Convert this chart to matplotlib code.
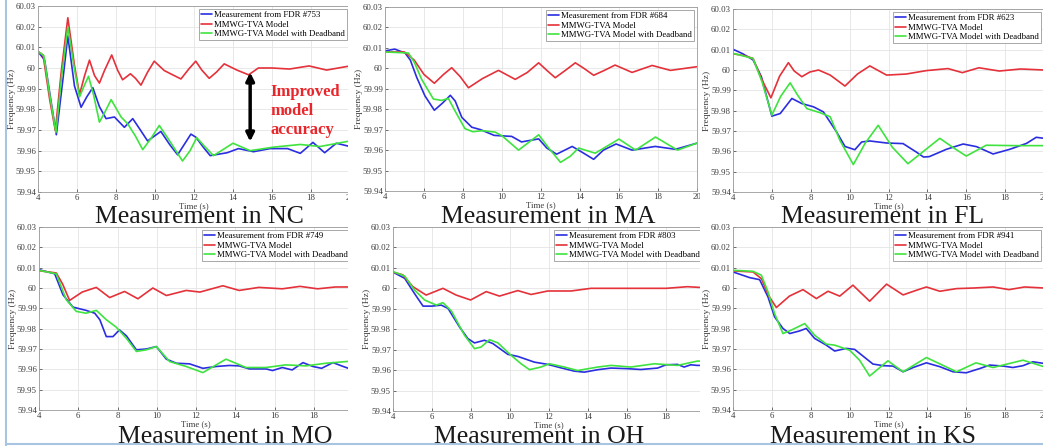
"""
Frequency response: FDR measurements vs MMWG-TVA model, six states
"""

import matplotlib
matplotlib.use("Agg")
import matplotlib.pyplot as plt
from matplotlib.ticker import FuncFormatter
from matplotlib.lines import Line2D

plt.rcParams['font.family'] = ['Liberation Serif', 'DejaVu Serif']

W, H = 1043, 446

BLUE = '#2a2ee0'
RED = '#e4313a'
GREEN = '#3fe33f'

STATES = ['NC', 'MA', 'FL', 'MO', 'OH', 'KS']
FDR_IDS = [753, 684, 623, 749, 803, 941]
X_TICKS = [4, 6, 8, 10, 12, 14, 16, 18, 20]
Y_TICKS = [59.94, 59.95, 59.96, 59.97, 59.98, 59.99, 60.0, 60.01, 60.02, 60.03]

# ---- NC ----
nc_meas_t = [4.0, 4.34, 4.65, 4.94, 5.28, 5.53, 5.87, 6.21, 6.5, 6.81, 7.15, 7.49, 7.92, 8.43,
             8.86, 9.25, 9.62, 10.3, 10.75, 11.16, 11.5, 11.84, 12.1, 12.45, 12.83, 13.7, 14.28,
             15.05, 15.9, 16.8, 17.45, 18.1, 18.7, 19.3, 20.0]
nc_meas_f = [60.008, 60.0038, 59.985, 59.9677, 59.9947, 60.0155, 59.9913, 59.981, 59.986,
             59.9905, 59.9813, 59.9755, 59.9763, 59.9713, 59.9755, 59.970, 59.9647, 59.9693,
             59.963, 59.958, 59.963, 59.968, 59.9665, 59.962, 59.9576, 59.959, 59.961, 59.9595,
             59.961, 59.961, 59.9587, 59.964, 59.959, 59.9636, 59.962]
nc_model_t = [4.0, 4.26, 4.6, 4.89, 5.19, 5.53, 5.87, 6.13, 6.39, 6.64, 6.9, 7.15, 7.41, 7.78,
              8.09, 8.34, 8.74, 9.0, 9.28, 9.62, 9.96, 10.47, 10.8, 11.33, 11.75, 12.09, 12.4,
              12.78, 13.15, 13.55, 14.2, 14.8, 15.3, 16.0, 16.9, 17.9, 18.8, 20.0]
nc_model_f = [60.008, 60.0063, 59.9847, 59.9697, 59.998, 60.0243, 60.0013, 59.9872, 59.9963,
              60.0038, 59.9963, 59.9927, 59.9988, 60.0063, 59.9988, 59.9943, 59.9972, 59.995,
              59.9917, 59.998, 60.0033, 59.9988, 59.9972, 59.9947, 59.9997, 60.0033, 59.999,
              59.995, 59.998, 60.002, 59.999, 59.9967, 60.0, 60.0, 59.9995, 60.001, 59.999,
              60.001]
nc_dead_t = [4.0, 4.3, 4.6, 4.92, 5.2, 5.53, 5.85, 6.13, 6.35, 6.59, 6.85, 7.15, 7.45, 7.75,
             8.26, 8.6, 9.0, 9.37, 9.8, 10.22, 10.8, 11.41, 11.8, 12.14, 12.55, 13.0, 14.0,
             14.88, 16.07, 17.45, 18.46, 20.0]
nc_dead_f = [60.008, 60.006, 59.987, 59.9688, 59.995, 60.0197, 60.0005, 59.986, 59.991, 59.996,
             59.987, 59.9738, 59.979, 59.9847, 59.9763, 59.973, 59.967, 59.9605, 59.966,
             59.9722, 59.964, 59.955, 59.960, 59.9663, 59.962, 59.9576, 59.9636, 59.960,
             59.9617, 59.963, 59.962, 59.9647]

# ---- MA ----
ma_meas_t = [4.0, 4.5, 5.03, 5.3, 5.63, 6.05, 6.53, 6.95, 7.35, 7.6, 7.94, 8.45, 8.9, 9.6, 10.5,
             11.0, 11.88, 12.3, 12.8, 13.6, 14.1, 14.7, 15.2, 15.85, 16.67, 17.86, 18.9, 20.0]
ma_meas_f = [60.0085, 60.0094, 60.0075, 60.004, 59.9955, 59.9865, 59.9795, 59.983, 59.9868,
             59.984, 59.976, 59.9712, 59.970, 59.9672, 59.9667, 59.964, 59.9655, 59.961, 59.958,
             59.9618, 59.959, 59.9555, 59.960, 59.963, 59.960, 59.9618, 59.9604, 59.9634]
ma_model_t = [4.0, 5.0, 5.5, 6.0, 6.53, 7.0, 7.42, 7.85, 8.28, 9.0, 9.82, 10.68, 11.3, 11.88,
              12.3, 12.73, 13.25, 13.76, 14.2, 14.7, 15.25, 15.8, 16.67, 17.7, 18.64, 20.0]
ma_model_f = [60.008, 60.008, 60.004, 59.997, 59.9927, 59.997, 60.0003, 59.996, 59.9905,
              59.995, 59.999, 59.9946, 59.998, 60.0027, 59.999, 59.9954, 59.999, 60.0027, 60.0,
              59.9966, 59.999, 60.0016, 59.998, 60.0014, 59.999, 60.0008]
ma_dead_t = [4.0, 5.2, 5.5, 5.88, 6.48, 6.9, 7.25, 7.6, 8.1, 8.5, 9.0, 9.65, 10.0, 10.85, 11.4,
             11.88, 12.4, 13.0, 13.5, 13.93, 14.78, 15.4, 16.0, 16.85, 17.87, 19.0, 20.0]
ma_dead_f = [60.008, 60.0075, 60.003, 59.9946, 59.985, 59.9843, 59.9853, 59.979, 59.9705,
             59.969, 59.9695, 59.9688, 59.967, 59.960, 59.964, 59.9675, 59.961, 59.954, 59.957,
             59.961, 59.9585, 59.962, 59.9654, 59.960, 59.9664, 59.960, 59.9634]

# ---- FL ----
fl_meas_t = [4.0, 4.5, 5.03, 5.46, 6.0, 6.43, 7.03, 7.54, 8.14, 8.65, 9.33, 9.76, 10.27, 10.62,
             11.04, 11.9, 12.75, 13.44, 13.8, 14.1, 14.98, 15.84, 16.53, 17.38, 18.24, 19.1,
             19.6, 20.0]
fl_meas_f = [60.0102, 60.008, 60.005, 59.9967, 59.9773, 59.9786, 59.986, 59.9835, 59.9819,
             59.9794, 59.9695, 59.9624, 59.9608, 59.9646, 59.9651, 59.9641, 59.9638, 59.9596,
             59.9572, 59.9574, 59.961, 59.9636, 59.9623, 59.9587, 59.961, 59.9639, 59.9669,
             59.9664]
fl_model_t = [4.0, 4.6, 5.03, 5.5, 5.95, 6.4, 6.85, 7.15, 7.54, 7.95, 8.4, 9.0, 9.76, 10.4,
              11.04, 11.9, 12.9, 13.95, 15.06, 15.8, 16.65, 17.7, 18.8, 20.0]
fl_model_f = [60.008, 60.007, 60.0057, 59.995, 59.9863, 59.997, 60.0036, 59.9995, 59.9967,
              59.999, 60.0, 59.9975, 59.9921, 59.998, 60.002, 59.9975, 59.998, 59.9997, 60.0007,
              59.9987, 60.0011, 59.9995, 60.0005, 60.0]
fl_dead_t = [4.0, 5.03, 5.5, 6.0, 6.45, 6.94, 7.3, 7.8, 8.48, 9.0, 9.5, 10.19, 10.8, 11.47,
             12.2, 13.0, 13.8, 14.64, 15.3, 16.0, 17.03, 18.5, 20.0]
fl_dead_f = [60.0082, 60.0057, 59.994, 59.9778, 59.987, 59.9937, 59.988, 59.981, 59.979,
             59.977, 59.9654, 59.9535, 59.964, 59.9728, 59.962, 59.9539, 59.960, 59.9664,
             59.962, 59.9577, 59.963, 59.9628, 59.9628]

# ---- MO ----
mo_meas_t = [4.0, 4.8, 5.22, 5.73, 6.4, 6.84, 7.1, 7.43, 7.77, 8.1, 8.45, 8.96, 9.47, 9.98,
             10.49, 11.0, 11.67, 12.35, 13.03, 13.7, 14.2, 14.72, 15.57, 15.9, 16.4, 16.9,
             17.45, 17.96, 18.4, 18.98, 19.5, 20.0]
mo_meas_f = [60.009, 60.007, 59.9967, 59.9906, 59.989, 59.9876, 59.9844, 59.9761, 59.9761,
             59.9794, 59.9765, 59.9696, 59.970, 59.9712, 59.965, 59.963, 59.9627, 59.9605,
             59.9614, 59.9619, 59.9617, 59.9602, 59.9602, 59.9594, 59.9609, 59.9597, 59.9633,
             59.9614, 59.9605, 59.9633, 59.9614, 59.9597]
mo_model_t = [4.0, 4.88, 5.2, 5.56, 6.2, 6.92, 7.6, 8.36, 9.04, 9.8, 10.49, 11.5, 12.2, 13.37,
              14.2, 15.2, 16.4, 17.3, 18.2, 19.1, 20.0]
mo_model_f = [60.0085, 60.0074, 60.002, 59.9939, 59.998, 60.0003, 59.9953, 59.9983, 59.9947,
              60.0, 59.9963, 59.9988, 59.998, 60.0011, 59.9988, 60.0003, 59.9996, 60.0008,
              59.9996, 60.0005, 60.0005]
mo_dead_t = [4.0, 4.88, 5.39, 5.9, 6.4, 6.92, 7.43, 7.94, 8.45, 8.96, 9.47, 9.98, 10.66, 11.5,
             12.35, 13.53, 14.55, 15.57, 16.58, 17.6, 18.62, 20.0]
mo_dead_f = [60.0087, 60.007, 59.9942, 59.9885, 59.9876, 59.989, 59.9844, 59.9807, 59.9753,
             59.9688, 59.9696, 59.9712, 59.9638, 59.9614, 59.9584, 59.965, 59.9609, 59.9609,
             59.9622, 59.9617, 59.963, 59.9641]

# ---- OH ----
oh_meas_t = [4.0, 4.6, 5.1, 5.54, 6.0, 6.47, 6.82, 7.41, 7.84, 8.18, 8.69, 9.12, 9.89, 10.4,
             11.25, 11.94, 12.62, 13.3, 13.81, 14.5, 15.18, 16.03, 16.71, 17.57, 18.0, 18.59,
             18.93, 19.27, 19.6, 20.0]
oh_meas_f = [60.0079, 60.0049, 59.9975, 59.9913, 59.9913, 59.9918, 59.9902, 59.9811, 59.9754,
             59.9733, 59.9746, 59.973, 59.9677, 59.9667, 59.9639, 59.9628, 59.9611, 59.9595,
             59.959, 59.9602, 59.961, 59.9607, 59.9603, 59.961, 59.9626, 59.9628, 59.9615,
             59.9626, 59.9623, 59.9623]
oh_model_t = [4.0, 4.5, 5.02, 5.7, 6.56, 7.24, 7.98, 8.78, 9.46, 10.4, 11.08, 11.94, 13.13,
              14.15, 16.0, 18.0, 19.1, 20.0]
oh_model_f = [60.0079, 60.0066, 60.0008, 59.9967, 60.0, 59.9967, 59.9943, 59.9984, 59.9962,
              59.9989, 59.997, 59.9987, 59.9987, 60.0, 60.0, 60.0, 60.0008, 60.0003]
oh_dead_t = [4.0, 4.6, 5.1, 5.62, 6.22, 6.56, 6.99, 7.67, 8.18, 8.52, 8.95, 9.38, 10.06, 10.57,
             11.0, 11.59, 12.02, 12.79, 13.47, 14.5, 15.18, 16.2, 17.4, 18.59, 19.6, 20.0]
oh_dead_f = [60.0082, 60.006, 59.9992, 59.9943, 59.9918, 59.993, 59.989, 59.977, 59.9705,
             59.9713, 59.9749, 59.9733, 59.9672, 59.9631, 59.9602, 59.9615, 59.9631, 59.9615,
             59.9598, 59.9615, 59.9623, 59.9615, 59.9631, 59.9623, 59.9644, 59.9644]

# ---- KS ----
ks_meas_t = [4.0, 4.86, 5.37, 5.8, 6.14, 6.57, 6.92, 7.43, 7.77, 8.2, 8.8, 9.23, 9.83, 10.26,
             10.69, 11.2, 11.72, 12.23, 12.75, 13.27, 13.95, 14.64, 15.32, 16.0, 16.7, 17.21,
             17.9, 18.4, 18.92, 19.43, 20.0]
ks_meas_f = [60.0079, 60.0051, 60.0041, 59.9956, 59.9858, 59.9801, 59.9776, 59.9789, 59.9801,
             59.9752, 59.9719, 59.969, 59.9703, 59.9698, 59.9665, 59.9626, 59.9618, 59.9616,
             59.9588, 59.9609, 59.9632, 59.9613, 59.9588, 59.9583, 59.9604, 59.9621, 59.9616,
             59.9609, 59.9618, 59.9637, 59.9629]
ks_model_t = [4.0, 5.03, 5.46, 5.85, 6.23, 6.9, 7.6, 8.29, 8.89, 9.49, 10.17, 11.03, 11.9,
              12.75, 13.44, 13.95, 14.64, 15.5, 16.4, 17.38, 18.2, 19.0, 20.0]
ks_model_f = [60.0084, 60.0079, 60.0046, 59.996, 59.9904, 59.996, 59.9992, 59.9948, 59.9984,
              59.996, 60.0014, 59.9935, 60.0019, 59.9966, 59.9989, 60.0005, 59.9984, 59.9997,
              60.0, 60.0005, 59.9992, 60.0005, 60.0]
ks_dead_t = [4.0, 5.03, 5.46, 5.8, 6.14, 6.57, 7.0, 7.69, 8.2, 8.8, 9.23, 10.0, 10.51, 11.03,
             11.97, 12.75, 13.95, 15.5, 16.5, 17.38, 18.92, 20.0]
ks_dead_f = [60.0087, 60.0082, 60.0063, 59.9981, 59.9874, 59.9776, 59.9793, 59.9825, 59.9768,
             59.9724, 59.9719, 59.9694, 59.9645, 59.9567, 59.9642, 59.9588, 59.9658, 59.9588,
             59.9632, 59.9609, 59.9645, 59.9613]

MEAS = [(nc_meas_t, nc_meas_f), (ma_meas_t, ma_meas_f), (fl_meas_t, fl_meas_f),
        (mo_meas_t, mo_meas_f), (oh_meas_t, oh_meas_f), (ks_meas_t, ks_meas_f)]
MODEL = [(nc_model_t, nc_model_f), (ma_model_t, ma_model_f), (fl_model_t, fl_model_f),
         (mo_model_t, mo_model_f), (oh_model_t, oh_model_f), (ks_model_t, ks_model_f)]
DEAD = [(nc_dead_t, nc_dead_f), (ma_dead_t, ma_dead_f), (fl_dead_t, fl_dead_f),
        (mo_dead_t, mo_dead_f), (oh_dead_t, oh_dead_f), (ks_dead_t, ks_dead_f)]

# layout in pixels: axes box (l, t, r, b), backdrop box or None, title centre/baseline
AX_BOX = [(38, 6, 350, 192), (385, 7, 697, 191), (733, 9, 1044, 192),
          (39, 227, 353, 410), (393, 227, 705, 411), (733, 227, 1044, 410)]
BG_BOX = [None, (348, 0, 700, 205), (700, 0, 1043, 205),
          None, (348, 226, 700, 446), (700, 226, 1043, 446)]
TITLE_XY = [(199, 223), (548, 223), (883, 223), (225, 443), (539, 443), (873, 443)]


def px_rect(l, t, r, b):
    return [l / W, 1 - b / H, (r - l) / W, (b - t) / H]


def fmt_tick(v, pos):
    return f'{round(v, 2):g}'


fig = plt.figure(figsize=(W / 100, H / 100), dpi=100)

line_kw = dict(lw=1.2, solid_joinstyle='round', solid_capstyle='round')

axes = []
for i, state in enumerate(STATES):
    if BG_BOX[i] is not None:
        bg = fig.add_axes(px_rect(*BG_BOX[i]))
        bg.set_xticks([])
        bg.set_yticks([])
        for s in bg.spines.values():
            s.set_visible(False)

    ax = fig.add_axes(px_rect(*AX_BOX[i]))
    ax.plot(*MEAS[i], color=BLUE, label=f'Measurement from FDR #{FDR_IDS[i]}', **line_kw)
    ax.plot(*MODEL[i], color=RED, label='MMWG-TVA Model', **line_kw)
    ax.plot(*DEAD[i], color=GREEN, label='MMWG-TVA Model with Deadband', **line_kw)

    ax.set_xlim(4, 20)
    ax.set_ylim(59.94, 60.03)
    ax.set_xticks(X_TICKS)
    ax.set_yticks(Y_TICKS)
    ax.yaxis.set_major_formatter(FuncFormatter(fmt_tick))
    ax.tick_params(labelsize=6.3, colors='#3a3a3a', direction='in', length=2,
                   width=0.5, pad=1.5)
    ax.grid(True, color='#e4e4e4', lw=0.6)
    ax.set_axisbelow(True)
    for s in ax.spines.values():
        s.set_color('#9a9a9a')
        s.set_linewidth(0.6)
    ax.set_xlabel('Time (s)', fontsize=6.3, color='#3a3a3a', labelpad=0)
    ax.set_ylabel('Frequency (Hz)', fontsize=6.8, color='#3a3a3a', labelpad=0)

    leg = ax.legend(loc='upper right', fontsize=6.3, frameon=True, fancybox=False,
                    edgecolor='#9a9a9a', framealpha=1, borderpad=0.25, labelspacing=0.15,
                    handlelength=1.3, handletextpad=0.2, borderaxespad=0.35)
    leg.get_frame().set_linewidth(0.6)

    tx, ty = TITLE_XY[i]
    ax.text(tx / W, 1 - ty / H, f'Measurement in {state}', transform=fig.transFigure,
            ha='center', va='baseline', fontsize=18.5, color='#1a1a1a', clip_on=False)
    axes.append(ax)

# annotation on the NC panel
ax = axes[0]
ax.annotate('', xy=(14.88, 59.9979), xytext=(14.88, 59.9644),
            arrowprops=dict(arrowstyle='<|-|>', color='black', lw=2.5,
                            mutation_scale=12, shrinkA=0, shrinkB=0))
ax.text(15.9, 59.979, 'Improved\nmodel\naccuracy', color='#e8262b', fontsize=12,
        fontweight='bold', ha='left', va='center', linespacing=1.25)

# slide frame edges
fig.add_artist(Line2D([5.5 / W, 5.5 / W], [0, 1], color='#a9c3e3', lw=1.5))
fig.add_artist(Line2D([5.5 / W, 1], [1 - 443.5 / H, 1 - 443.5 / H], color='#a9c3e3', lw=1.5))

fig.savefig('out.png', dpi=100)
